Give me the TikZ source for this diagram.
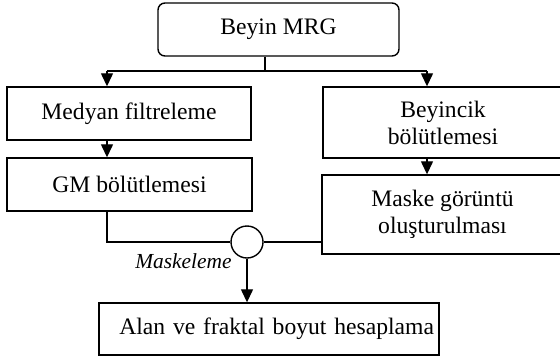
\documentclass[tikz,border=0pt]{standalone}
\usepackage{fontspec}
\setmainfont{Liberation Serif}
\usetikzlibrary{arrows.meta}
\begin{document}
\begin{tikzpicture}[x=1bp,y=-1bp,
  box/.style={draw, line width=1.4bp, inner sep=0pt, align=center, font=\fontsize{23.7}{27.2}\selectfont},
  conn/.style={line width=1.3bp},
  arr/.style={conn, -{Triangle[width=12bp,length=13bp]}}]
\useasboundingbox (0,0) rectangle (560,361);
\clip (0,0) rectangle (560,361);
\node[box, rounded corners=7bp, minimum width=241bp, minimum height=53bp] (mrg) at (278.5,29.5) {Beyin MRG};
\node[box, minimum width=244bp, minimum height=53bp] (med) at (129,113.5) {Medyan filtreleme};
\node[box, minimum width=245bp, minimum height=53bp] (gm) at (129.5,184.5) {GM bölütlemesi};
\node[box, minimum width=240bp, minimum height=71bp] (bey) at (443,122.5) {Beyincik\\bölütlemesi};
\node[box, minimum width=241bp, minimum height=79bp] (mask) at (442.5,214.5) {Maske görüntü\\oluşturulması};
\node[box, text width=330bp, inner xsep=5bp, align=right, minimum height=52bp] (alan) at (269,329) {Alan ve fraktal boyut hesaplama};
\node[draw, circle, line width=1.4bp, minimum size=32bp, inner sep=0pt] (circ) at (247,242) {};
\node[font=\itshape\fontsize{21.5}{24}\selectfont, inner sep=0pt] (lbl) at (183.5,261) {Maskeleme};
\coordinate (j) at (265,71);
\coordinate (jl) at (107,71);
\coordinate (jr) at (427,71);
\draw[conn] (mrg.south -| j) -- (j);
\draw[conn] (jl) -- (jr);
\draw[arr] (jl) -- (jl |- med.north);
\draw[arr] (jr) -- (jr |- bey.north);
\draw[arr] (med.south -| jl) -- (gm.north -| jl);
\draw[arr] (bey.south -| jr) -- (mask.north -| jr);
\draw[conn] (gm.south -| jl) |- (circ.west);
\draw[conn] (circ.east) -- (circ.east -| mask.west);
\draw[arr] (circ.south) -- (circ.south |- alan.north);
\end{tikzpicture}
\end{document}
